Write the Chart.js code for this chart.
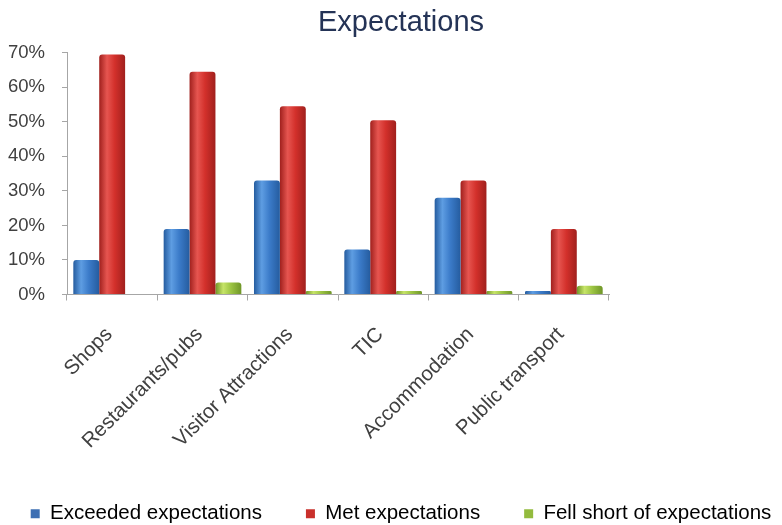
<!DOCTYPE html>
<html>
<head>
<meta charset="utf-8">
<title>Expectations</title>
<script src="https://cdn.jsdelivr.net/npm/chart.js@4/dist/chart.umd.min.js"></script>
<style>
  html, body { margin: 0; padding: 0; background: #ffffff; }
  #wrap { width: 782px; height: 525px; }
</style>
</head>
<body>
<div id="wrap"><canvas id="chart" width="782" height="525"></canvas></div>
<script>
// Survey categories and the share of visitors in each response group (%)
const categories = ['Shops', 'Restaurants/pubs', 'Visitor Attractions', 'TIC', 'Accommodation', 'Public transport'];
const exceeded = [10, 19, 33, 13, 28, 1];
const met = [69.5, 64.5, 54.5, 50.5, 33, 19];
const fellShort = [0, 3.5, 1, 1, 1, 2.5];
const seriesNames = ['Exceeded expectations', 'Met expectations', 'Fell short of expectations'];
const yTicks = [0, 10, 20, 30, 40, 50, 60, 70];

// Cylinder-like shading: dark edges, lighter band left of centre
const palettes = [
  { base: '#3b7bc9', edge: '#255c9f', light: '#5e9de2' },
  { base: '#d3302b', edge: '#a0201d', light: '#e65550' },
  { base: '#9cc443', edge: '#6f9628', light: '#c6e468' }
];

function shaded(p) {
  return function (ctx) {
    const el = ctx.element;
    if (!el || typeof el.x !== 'number' || !isFinite(el.x) || !el.width) return p.base;
    const c = ctx.chart.ctx;
    const x0 = el.x - el.width / 2, x1 = el.x + el.width / 2;
    const g = c.createLinearGradient(x0, 0, x1, 0);
    g.addColorStop(0, p.edge);
    g.addColorStop(0.3, p.light);
    g.addColorStop(0.6, p.base);
    g.addColorStop(1, p.edge);
    return g;
  };
}

const seriesValues = [exceeded, met, fellShort];
const datasets = seriesValues.map((vals, i) => ({
  label: seriesNames[i],
  data: vals,
  backgroundColor: shaded(palettes[i]),
  borderWidth: 0,
  borderRadius: { topLeft: 3, topRight: 3, bottomLeft: 0, bottomRight: 0 },
  borderSkipped: 'start',
  categoryPercentage: 0.86,
  barPercentage: 1.0
}));

const legendColors = ['#3d6fb3', '#c9302b', '#93bb3e'];
const FONT = 'Liberation Sans, Arial, sans-serif';

const chart = new Chart(document.getElementById('chart'), {
  type: 'bar',
  data: { labels: categories, datasets: datasets },
  options: {
    responsive: false,
    animation: false,
    layout: { padding: { left: -20, right: -40, top: 0, bottom: -9 } },
    plugins: {
      title: {
        display: true,
        text: 'Expectations',
        color: '#243356',
        font: { family: FONT, size: 29, weight: 'normal' },
        padding: { top: 6, bottom: 12 }
      },
      legend: {
        position: 'bottom',
        labels: {
          color: '#3a3a3a',
          font: { family: FONT, size: 20.5 },
          boxWidth: 9,
          boxHeight: 9,
          padding: 44,
          generateLabels: function (ch) {
            return ch.data.datasets.map((ds, i) => ({
              text: ds.label,
              fillStyle: legendColors[i],
              strokeStyle: legendColors[i],
              lineWidth: 0,
              hidden: false,
              datasetIndex: i
            }));
          }
        }
      },
      tooltip: { enabled: false }
    },
    scales: {
      x: {
        grid: {
          display: true,
          drawOnChartArea: false,
          offset: true,
          tickLength: 6,
          color: '#a6a6a6'
        },
        border: { display: true, color: '#a6a6a6', width: 1 },
        ticks: {
          color: '#404040',
          font: { family: FONT, size: 20.5 },
          minRotation: 45,
          maxRotation: 45,
          padding: 22,
          labelOffset: -3,
          autoSkip: false
        },
        afterFit: function (s) { s.height = 165; }
      },
      y: {
        min: 0,
        max: 70,
        afterBuildTicks: function (s) { s.ticks = yTicks.map(v => ({ value: v })); },
        grid: {
          display: true,
          drawOnChartArea: false,
          tickLength: 5,
          color: '#a6a6a6'
        },
        border: { display: true, color: '#a6a6a6', width: 1 },
        ticks: {
          color: '#404040',
          font: { family: FONT, size: 18.5 },
          padding: 17,
          callback: function (v) { return v + '%'; }
        },
        afterFit: function (s) { s.width = 87; }
      },
      yRight: {
        position: 'right',
        display: true,
        grid: { display: false },
        border: { display: false },
        ticks: { display: false },
        afterFit: function (s) { s.width = 213; }
      }
    }
  }
});
// second pass so the bar gradients can use the laid-out bar geometry
chart.update('none');
</script>
</body>
</html>
